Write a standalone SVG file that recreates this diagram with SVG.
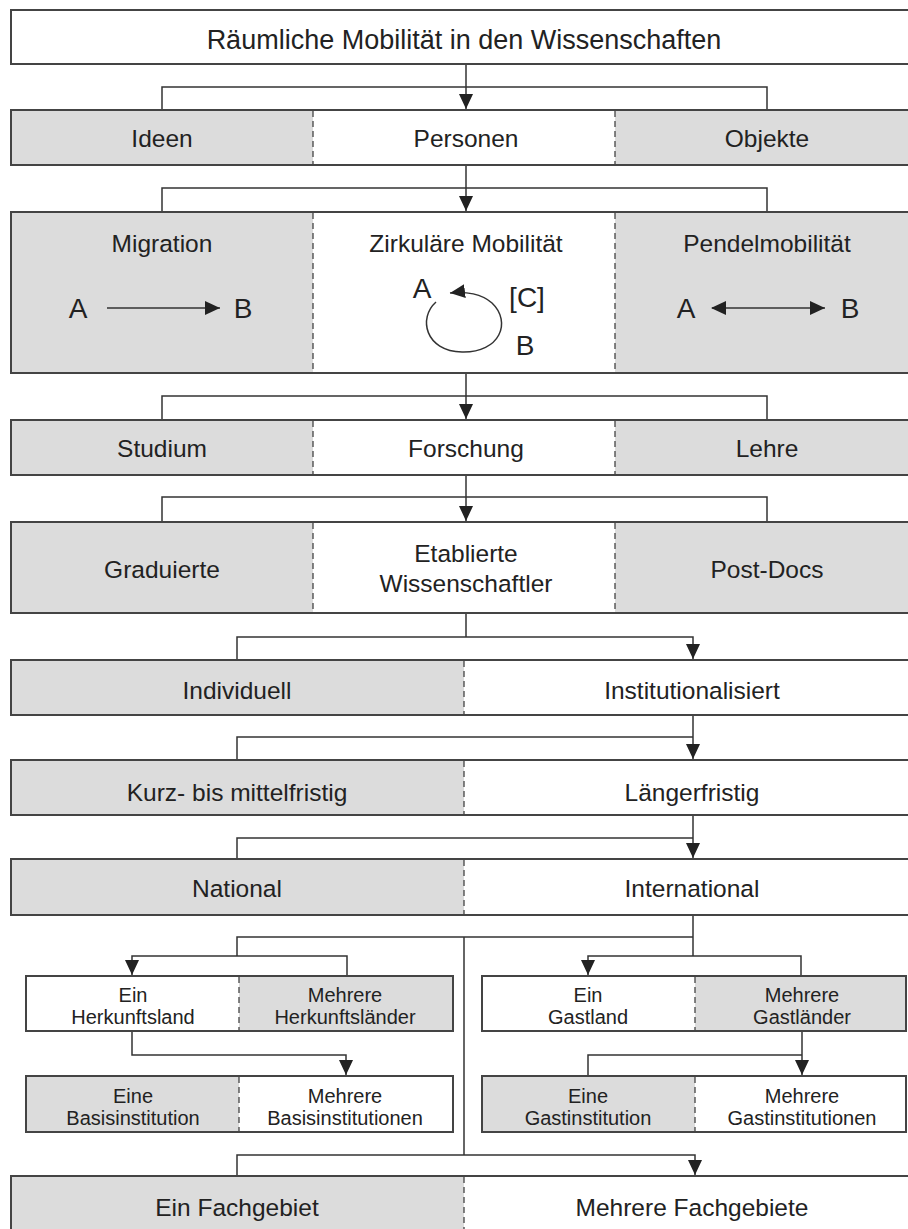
<svg xmlns="http://www.w3.org/2000/svg" width="908" height="1229" viewBox="0 0 908 1229">
<style>
text{font-family:"Liberation Sans",Arial,sans-serif;fill:#222;text-anchor:middle}
.t{font-size:27px}
.r{font-size:24.5px}
.s{font-size:20px}
.l{font-size:28px}
.box{stroke:#444;stroke-width:2}
.g{fill:#dcdcdc}
.w{fill:#fff}
.d{stroke:#444;stroke-width:1.3;stroke-dasharray:6 4;fill:none}
.c{stroke:#333;stroke-width:1.5;fill:none}
</style>
<defs>
<marker id="ah" markerUnits="userSpaceOnUse" markerWidth="16" markerHeight="14" refX="15" refY="7" orient="auto">
<path d="M0,0 L15,7 L0,14 z" fill="#222"/>
</marker>
<marker id="as" markerUnits="userSpaceOnUse" markerWidth="16" markerHeight="14" refX="1" refY="7" orient="auto">
<path d="M15,0 L0,7 L15,14 z" fill="#222"/>
</marker>
</defs>
<rect width="908" height="1229" fill="#fff"/>

<g id="connectors">
<path class="c" d="M466,64 V109" marker-end="url(#ah)"/>
<path class="c" d="M162,110 V87 H767 V110"/>
<path class="c" d="M466,165 V211" marker-end="url(#ah)"/>
<path class="c" d="M162,212 V188 H767 V212"/>
<path class="c" d="M466,373 V419" marker-end="url(#ah)"/>
<path class="c" d="M162,420 V396 H767 V420"/>
<path class="c" d="M466,475 V521" marker-end="url(#ah)"/>
<path class="c" d="M162,522 V497 H767 V522"/>
<path class="c" d="M466,613 V637"/>
<path class="c" d="M237,660 V637 H693 V659" marker-end="url(#ah)"/>
<path class="c" d="M693,715 V759" marker-end="url(#ah)"/>
<path class="c" d="M237,760 V737 H693"/>
<path class="c" d="M693,815 V858" marker-end="url(#ah)"/>
<path class="c" d="M237,859 V838 H693"/>
<path class="c" d="M693,915 V956"/>
<path class="c" d="M237,956 V937 H693"/>
<path class="c" d="M347,976 V956 H132 V975" marker-end="url(#ah)"/>
<path class="c" d="M801,976 V956 H588 V975" marker-end="url(#ah)"/>
<path class="c" d="M464,937 V1155"/>
<path class="c" d="M132,1031 V1055 H346 V1075" marker-end="url(#ah)"/>
<path class="c" d="M802,1031 V1075" marker-end="url(#ah)"/>
<path class="c" d="M588,1076 V1055 H802"/>
<path class="c" d="M237,1176 V1155 H695 V1175" marker-end="url(#ah)"/>
</g>

<g id="title">
<rect class="box w" x="11" y="10" width="902" height="54"/>
<text class="t" x="464" y="49">Räumliche Mobilität in den Wissenschaften</text>
</g>

<g id="row-objekt">
<rect class="g" x="11" y="110" width="302" height="55"/>
<rect class="w" x="313" y="110" width="302" height="55"/>
<rect class="g" x="615" y="110" width="298" height="55"/>
<rect class="box" fill="none" x="11" y="110" width="902" height="55"/>
<path class="d" d="M313,111 V164 M615,111 V164"/>
<text class="r" x="162" y="147">Ideen</text>
<text class="r" x="466" y="147">Personen</text>
<text class="r" x="767" y="147">Objekte</text>
</g>

<g id="row-form">
<rect class="g" x="11" y="212" width="302" height="161"/>
<rect class="w" x="313" y="212" width="302" height="161"/>
<rect class="g" x="615" y="212" width="298" height="161"/>
<rect class="box" fill="none" x="11" y="212" width="902" height="161"/>
<path class="d" d="M313,213 V372 M615,213 V372"/>
<text class="r" x="162" y="252">Migration</text>
<text class="r" x="466" y="252">Zirkuläre Mobilität</text>
<text class="r" x="767" y="252">Pendelmobilität</text>
<text class="l" x="78" y="318">A</text>
<path class="c" d="M107,308 H220" marker-end="url(#ah)"/>
<text class="l" x="243" y="318">B</text>
<text class="l" x="422" y="298">A</text>
<path class="c" d="M436,302 C418,318 425,351 462,352 C500,353 512,322 492,303 C482,294 466,291 450,293" marker-end="url(#ah)"/>
<text class="l" x="527" y="307">[C]</text>
<text class="l" x="525" y="355">B</text>
<text class="l" x="686" y="318">A</text>
<path class="c" d="M712,308 H825" marker-start="url(#as)" marker-end="url(#ah)"/>
<text class="l" x="850" y="318">B</text>
</g>

<g id="row-zweck">
<rect class="g" x="11" y="420" width="302" height="55"/>
<rect class="w" x="313" y="420" width="302" height="55"/>
<rect class="g" x="615" y="420" width="298" height="55"/>
<rect class="box" fill="none" x="11" y="420" width="902" height="55"/>
<path class="d" d="M313,421 V474 M615,421 V474"/>
<text class="r" x="162" y="457">Studium</text>
<text class="r" x="466" y="457">Forschung</text>
<text class="r" x="767" y="457">Lehre</text>
</g>

<g id="row-status">
<rect class="g" x="11" y="522" width="302" height="91"/>
<rect class="w" x="313" y="522" width="302" height="91"/>
<rect class="g" x="615" y="522" width="298" height="91"/>
<rect class="box" fill="none" x="11" y="522" width="902" height="91"/>
<path class="d" d="M313,523 V612 M615,523 V612"/>
<text class="r" x="162" y="578">Graduierte</text>
<text class="r" x="466" y="562">Etablierte</text>
<text class="r" x="466" y="592">Wissenschaftler</text>
<text class="r" x="767" y="578">Post-Docs</text>
</g>

<g id="row-organisation">
<rect class="g" x="11" y="660" width="453" height="55"/>
<rect class="w" x="464" y="660" width="449" height="55"/>
<rect class="box" fill="none" x="11" y="660" width="902" height="55"/>
<path class="d" d="M464,661 V714"/>
<text class="r" x="237" y="699">Individuell</text>
<text class="r" x="692" y="699">Institutionalisiert</text>
</g>

<g id="row-dauer">
<rect class="g" x="11" y="760" width="453" height="55"/>
<rect class="w" x="464" y="760" width="449" height="55"/>
<rect class="box" fill="none" x="11" y="760" width="902" height="55"/>
<path class="d" d="M464,761 V814"/>
<text class="r" x="237" y="801">Kurz- bis mittelfristig</text>
<text class="r" x="692" y="801">Längerfristig</text>
</g>

<g id="row-raum">
<rect class="g" x="11" y="859" width="453" height="56"/>
<rect class="w" x="464" y="859" width="449" height="56"/>
<rect class="box" fill="none" x="11" y="859" width="902" height="56"/>
<path class="d" d="M464,860 V914"/>
<text class="r" x="237" y="897">National</text>
<text class="r" x="692" y="897">International</text>
</g>

<g id="herkunft">
<rect class="w" x="26" y="976" width="213" height="55"/>
<rect class="g" x="239" y="976" width="214" height="55"/>
<rect class="box" fill="none" x="26" y="976" width="427" height="55"/>
<path class="d" d="M239,977 V1030"/>
<text class="s" x="133" y="1002">Ein</text>
<text class="s" x="133" y="1024">Herkunftsland</text>
<text class="s" x="345" y="1002">Mehrere</text>
<text class="s" x="345" y="1024">Herkunftsländer</text>
</g>

<g id="gastland">
<rect class="w" x="482" y="976" width="213" height="55"/>
<rect class="g" x="695" y="976" width="211" height="55"/>
<rect class="box" fill="none" x="482" y="976" width="424" height="55"/>
<path class="d" d="M695,977 V1030"/>
<text class="s" x="588" y="1002">Ein</text>
<text class="s" x="588" y="1024">Gastland</text>
<text class="s" x="802" y="1002">Mehrere</text>
<text class="s" x="802" y="1024">Gastländer</text>
</g>

<g id="basis">
<rect class="g" x="26" y="1076" width="213" height="56"/>
<rect class="w" x="239" y="1076" width="214" height="56"/>
<rect class="box" fill="none" x="26" y="1076" width="427" height="56"/>
<path class="d" d="M239,1077 V1131"/>
<text class="s" x="133" y="1103">Eine</text>
<text class="s" x="133" y="1125">Basisinstitution</text>
<text class="s" x="345" y="1103">Mehrere</text>
<text class="s" x="345" y="1125">Basisinstitutionen</text>
</g>

<g id="gastinstitution">
<rect class="g" x="482" y="1076" width="213" height="56"/>
<rect class="w" x="695" y="1076" width="211" height="56"/>
<rect class="box" fill="none" x="482" y="1076" width="424" height="56"/>
<path class="d" d="M695,1077 V1131"/>
<text class="s" x="588" y="1103">Eine</text>
<text class="s" x="588" y="1125">Gastinstitution</text>
<text class="s" x="802" y="1103">Mehrere</text>
<text class="s" x="802" y="1125">Gastinstitutionen</text>
</g>

<g id="row-fach">
<rect class="g" x="11" y="1176" width="453" height="56"/>
<rect class="w" x="464" y="1176" width="449" height="56"/>
<rect class="box" fill="none" x="11" y="1176" width="902" height="56"/>
<path class="d" d="M464,1177 V1229"/>
<text class="r" x="237" y="1216">Ein Fachgebiet</text>
<text class="r" x="692" y="1216">Mehrere Fachgebiete</text>
</g>
</svg>
